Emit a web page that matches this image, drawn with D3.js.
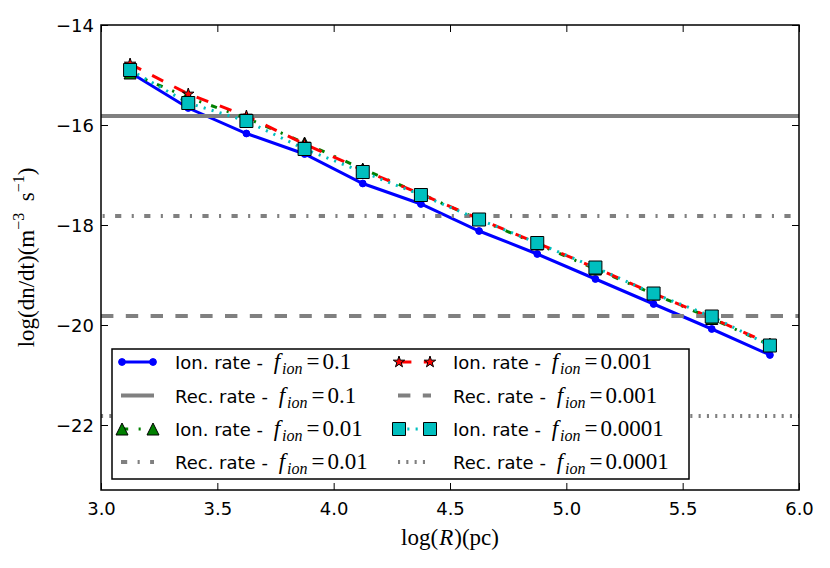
<!DOCTYPE html>
<html><head><meta charset="utf-8">
<script src="https://cdn.jsdelivr.net/npm/d3@7"></script>
<style>body{margin:0;background:#fff} text{white-space:pre}</style>
</head><body><svg id="c" width="830" height="568"></svg>
<script>
// ---- data ----
const logR = [3.125, 3.375, 3.625, 3.875, 4.125, 4.375, 4.625, 4.875, 5.125, 5.375, 5.625, 5.875];
const ionRate_f0_1    = [-14.95, -15.66, -16.17, -16.58, -17.17, -17.58, -18.12, -18.58, -19.08, -19.58, -20.08, -20.60];
const ionRate_f0_01   = [-14.96, -15.45, -15.86, -16.36, -16.88, -17.38, -17.89, -18.38, -18.88, -19.38, -19.87, -20.40];
const ionRate_f0_001  = [-14.78, -15.38, -15.82, -16.38, -16.90, -17.38, -17.88, -18.36, -18.86, -19.37, -19.86, -20.38];
const ionRate_f0_0001 = [-14.90, -15.56, -15.92, -16.48, -16.94, -17.40, -17.89, -18.36, -18.85, -19.37, -19.83, -20.41];
const recRate = [-15.82, -17.82, -19.82, -21.82];   // f_ion = 0.1, 0.01, 0.001, 0.0001
const fionLabels = ["0.1", "0.01", "0.001", "0.0001"];
const xTicks = [3.0, 3.5, 4.0, 4.5, 5.0, 5.5, 6.0];
const yTicks = [-22, -20, -18, -16, -14];
const xDomain = [3.0, 6.0];
const yDomain = [-23.3, -14];

// ---- style ----
const ionStyles = [
  {color:"#0000ff", dash:null, marker:"circle"},
  {color:"#008000", dash:[6.2,10.4,2.1,10.4], marker:"triangle"},
  {color:"#ff0000", dash:[12.4,12.4], marker:"star"},
  {color:"#00bfbf", dash:[2.1,6.2], marker:"square"}
];
const recDash = [null, [6.2,10.4,2.1,10.4], [12.4,12.4], [2.1,6.2]];
const ionSeries = [ionRate_f0_1, ionRate_f0_01, ionRate_f0_001, ionRate_f0_0001];

const svg = d3.select("#c");
const L = 101, R = 799, T = 25, B = 490;
const x = d3.scaleLinear().domain(xDomain).range([L, R]);
const y = d3.scaleLinear().domain(yDomain).range([B, T]);

svg.append("defs").append("clipPath").attr("id","clip")
  .append("rect").attr("x",L).attr("y",T).attr("width",R-L).attr("height",B-T);

function markerPath(type){
  if(type==="triangle") return "M0,-6L6,6L-6,6Z";
  if(type==="square") return "M-6.5,-6.5H6.5V6.5H-6.5Z";
  if(type==="star"){
    const Ro=6, Ri=6*0.382; let p="";
    for(let i=0;i<10;i++){
      const r = i%2? Ri: Ro, a = -Math.PI/2 + i*Math.PI/5;
      p += (i? "L":"M") + (r*Math.cos(a)).toFixed(2) + "," + (r*Math.sin(a)).toFixed(2);
    }
    return p+"Z";
  }
  return null;
}
function drawMarker(g, type, color, cx, cy){
  if(type==="circle"){
    g.append("circle").attr("cx",cx).attr("cy",cy).attr("r",3.4).attr("fill",color).attr("stroke",color).attr("stroke-width",1);
  } else {
    g.append("path").attr("d",markerPath(type)).attr("transform",`translate(${cx},${cy})`)
      .attr("fill",color).attr("stroke","#000").attr("stroke-width",1);
  }
}

const plot = svg.append("g").attr("clip-path","url(#clip)");
const line = d3.line().x(d=>x(d[0])).y(d=>y(d[1]));

for(let i=0;i<4;i++){
  const st = ionStyles[i];
  const pts = logR.map((v,j)=>[v, ionSeries[i][j]]);
  const p = plot.append("path").attr("d", line(pts)).attr("fill","none")
    .attr("stroke", st.color).attr("stroke-width", 3);
  if(st.dash) p.attr("stroke-dasharray", st.dash.join(","));
  const mg = plot.append("g");
  pts.forEach(d=>drawMarker(mg, st.marker, st.color, x(d[0]), y(d[1])));
  const h = plot.append("line").attr("x1",L).attr("x2",R).attr("y1",y(recRate[i])).attr("y2",y(recRate[i]))
    .attr("stroke","#808080").attr("stroke-width",4);
  if(recDash[i]) h.attr("stroke-dasharray", recDash[i].join(",")).attr("stroke-dashoffset", i===1?15:0);
}

// ---- axes ----
const tickFont = "DejaVu Sans";
const ax = svg.append("g").attr("transform",`translate(0,${B})`)
  .call(d3.axisBottom(x).tickValues(xTicks).tickFormat(d3.format(".1f")).tickSize(-7).tickSizeOuter(0).tickPadding(12));
const axT = svg.append("g").attr("transform",`translate(0,${T})`)
  .call(d3.axisTop(x).tickValues(xTicks).tickFormat("").tickSize(-7).tickSizeOuter(0));
const ay = svg.append("g").attr("transform",`translate(${L},0)`)
  .call(d3.axisLeft(y).tickValues(yTicks).tickFormat(d3.format("d")).tickSize(-7).tickSizeOuter(0).tickPadding(7));
const ayR = svg.append("g").attr("transform",`translate(${R},0)`)
  .call(d3.axisRight(y).tickValues(yTicks).tickFormat("").tickSize(-7).tickSizeOuter(0));
[ax,axT,ay,ayR].forEach(g=>{
  g.select(".domain").remove();
  g.selectAll(".tick line").attr("stroke","#000").attr("stroke-width",1);
  g.selectAll("text").attr("font-family",tickFont).attr("font-size",18).attr("fill","#000");
});
ax.selectAll("text").attr("dy","0.71em");
ay.selectAll("text").attr("dy","0.36em");

svg.append("rect").attr("x",L).attr("y",T).attr("width",R-L).attr("height",B-T)
  .attr("fill","none").attr("stroke","#000").attr("stroke-width",1.5);

// ---- axis labels ----
const serif = "Liberation Serif";
const xl = svg.append("text").attr("x",(L+R)/2).attr("y",545).attr("text-anchor","middle")
  .attr("font-family",serif).attr("font-size",23);
xl.append("tspan").text("log(");
xl.append("tspan").attr("font-style","italic").attr("dx",1).text("R");
xl.append("tspan").attr("dx",1).text(")(pc)");

const yl = svg.append("text").attr("transform",`translate(34,${(T+B)/2}) rotate(-90)`).attr("text-anchor","middle")
  .attr("font-family",serif).attr("font-size",23);
yl.append("tspan").text("log(dn/dt)(m");
yl.append("tspan").attr("font-size",16).attr("dy",-10).text("−3");
yl.append("tspan").attr("dy",10).text("  s");
yl.append("tspan").attr("font-size",16).attr("dy",-10).text("−1");
yl.append("tspan").attr("dy",10).text(")");

// ---- legend ----
const lg = svg.append("g");
lg.append("rect").attr("x",112).attr("y",349).attr("width",577).attr("height",130)
  .attr("fill","#fff").attr("stroke","#000").attr("stroke-width",1.5);
const rowY = [362, 395.5, 429, 462];
const cols = [{hx:121, tx:175},{hx:398, tx:453}];
const entries = [];
for(let i=0;i<4;i++){
  entries.push({kind:"ion", i});
  entries.push({kind:"rec", i});
}
entries.forEach((e, n)=>{
  const col = cols[Math.floor(n/4)], ry = rowY[n%4];
  const x1 = col.hx, x2 = col.hx+33;
  if(e.kind==="ion"){
    const st = ionStyles[e.i];
    const l = lg.append("line").attr("x1",x1+1).attr("x2",x2-1).attr("y1",ry).attr("y2",ry)
      .attr("stroke",st.color).attr("stroke-width",3);
    if(st.dash) l.attr("stroke-dasharray", st.dash.join(","));
    drawMarker(lg, st.marker, st.color, x1+1, ry);
    drawMarker(lg, st.marker, st.color, x2-1, ry);
  } else {
    const l = lg.append("line").attr("x1",x1).attr("x2",x2).attr("y1",ry).attr("y2",ry)
      .attr("stroke","#808080").attr("stroke-width",4);
    if(recDash[e.i]) l.attr("stroke-dasharray", recDash[e.i].join(","));
  }
  const t = lg.append("text").attr("x",col.tx).attr("y",ry+7);
  t.append("tspan").attr("font-family","DejaVu Sans").attr("font-size",18)
    .text(e.kind==="ion" ? "Ion. rate - " : "Rec. rate - ");
  t.append("tspan").attr("font-family",serif).attr("font-style","italic").attr("font-size",23).attr("dx",5).text("f");
  t.append("tspan").attr("font-family",serif).attr("font-style","italic").attr("font-size",16).attr("dy",5).attr("dx",2).text("ion");
  t.append("tspan").attr("font-family",serif).attr("font-size",23).attr("dy",-5).attr("dx",4).text("=");
  t.append("tspan").attr("font-family",serif).attr("font-size",23).attr("dx",3).text(fionLabels[e.i]);
});
</script></body></html>
